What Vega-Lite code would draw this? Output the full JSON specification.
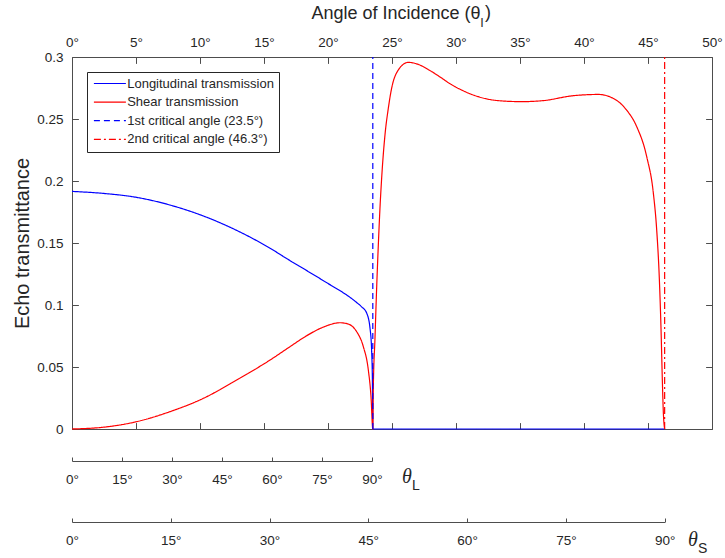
{
  "$schema": "https://vega.github.io/schema/vega-lite/v6.json",
  "padding": {"left": 12, "top": 4, "right": 5, "bottom": 5},
  "background": "white",
  "bounds": "flush",
  "spacing": 20,
  "config": {
    "view": {"stroke": null},
    "font": "Liberation Sans",
    "axis": {
      "grid": false,
      "domainColor": "#4d4d4d",
      "tickColor": "#4d4d4d",
      "domainWidth": 1,
      "tickWidth": 1,
      "labelColor": "#262626",
      "titleColor": "#262626",
      "labelFont": "Liberation Sans",
      "titleFont": "Liberation Sans",
      "labelFontSize": 13.5,
      "titleFontWeight": "normal",
      "labelFlush": false,
      "labelOverlap": false
    }
  },
  "datasets": {
    "curves": [
      {"series": "Longitudinal transmission", "t": 0, "v": 0.1916},
      {"series": "Longitudinal transmission", "t": 2.45, "v": 0.19},
      {"series": "Longitudinal transmission", "t": 5.05, "v": 0.1868},
      {"series": "Longitudinal transmission", "t": 7.66, "v": 0.1806},
      {"series": "Longitudinal transmission", "t": 10.26, "v": 0.1718},
      {"series": "Longitudinal transmission", "t": 12.86, "v": 0.1602},
      {"series": "Longitudinal transmission", "t": 15.47, "v": 0.1458},
      {"series": "Longitudinal transmission", "t": 17.03, "v": 0.1358},
      {"series": "Longitudinal transmission", "t": 18.33, "v": 0.1278},
      {"series": "Longitudinal transmission", "t": 19.64, "v": 0.1196},
      {"series": "Longitudinal transmission", "t": 22.24, "v": 0.102},
      {"series": "Longitudinal transmission", "t": 22.63, "v": 0.0985},
      {"series": "Longitudinal transmission", "t": 23.02, "v": 0.0935},
      {"series": "Longitudinal transmission", "t": 23.28, "v": 0.0815},
      {"series": "Longitudinal transmission", "t": 23.41, "v": 0.063},
      {"series": "Longitudinal transmission", "t": 23.47, "v": 0.038},
      {"series": "Longitudinal transmission", "t": 23.5, "v": 0},
      {"series": "Longitudinal transmission", "t": 46.3, "v": 0},
      {"series": "Shear transmission", "t": 0, "v": 0},
      {"series": "Shear transmission", "t": 2.5, "v": 0.0015},
      {"series": "Shear transmission", "t": 5.05, "v": 0.0059},
      {"series": "Shear transmission", "t": 7.66, "v": 0.014},
      {"series": "Shear transmission", "t": 10.26, "v": 0.0247},
      {"series": "Shear transmission", "t": 12.86, "v": 0.0395},
      {"series": "Shear transmission", "t": 15.47, "v": 0.0556},
      {"series": "Shear transmission", "t": 17.03, "v": 0.0664},
      {"series": "Shear transmission", "t": 18.33, "v": 0.0752},
      {"series": "Shear transmission", "t": 19.64, "v": 0.0822},
      {"series": "Shear transmission", "t": 20.94, "v": 0.0857},
      {"series": "Shear transmission", "t": 21.59, "v": 0.0846},
      {"series": "Shear transmission", "t": 22.24, "v": 0.0785},
      {"series": "Shear transmission", "t": 22.76, "v": 0.0664},
      {"series": "Shear transmission", "t": 23.15, "v": 0.0476},
      {"series": "Shear transmission", "t": 23.36, "v": 0.026},
      {"series": "Shear transmission", "t": 23.5, "v": 0},
      {"series": "Shear transmission", "t": 23.54, "v": 0.0328},
      {"series": "Shear transmission", "t": 23.67, "v": 0.073},
      {"series": "Shear transmission", "t": 23.8, "v": 0.1134},
      {"series": "Shear transmission", "t": 23.93, "v": 0.148},
      {"series": "Shear transmission", "t": 24.06, "v": 0.178},
      {"series": "Shear transmission", "t": 24.19, "v": 0.202},
      {"series": "Shear transmission", "t": 24.45, "v": 0.237},
      {"series": "Shear transmission", "t": 24.71, "v": 0.2585},
      {"series": "Shear transmission", "t": 24.97, "v": 0.2747},
      {"series": "Shear transmission", "t": 25.49, "v": 0.2895},
      {"series": "Shear transmission", "t": 26.28, "v": 0.2957},
      {"series": "Shear transmission", "t": 27.06, "v": 0.294},
      {"series": "Shear transmission", "t": 28.1, "v": 0.2882},
      {"series": "Shear transmission", "t": 29.92, "v": 0.2761},
      {"series": "Shear transmission", "t": 31.74, "v": 0.268},
      {"series": "Shear transmission", "t": 33.3, "v": 0.2648},
      {"series": "Shear transmission", "t": 35.13, "v": 0.264},
      {"series": "Shear transmission", "t": 36.8, "v": 0.2648},
      {"series": "Shear transmission", "t": 39.17, "v": 0.2688},
      {"series": "Shear transmission", "t": 41.12, "v": 0.2698},
      {"series": "Shear transmission", "t": 42.29, "v": 0.2666},
      {"series": "Shear transmission", "t": 43.33, "v": 0.2572},
      {"series": "Shear transmission", "t": 44.12, "v": 0.2438},
      {"series": "Shear transmission", "t": 44.9, "v": 0.2196},
      {"series": "Shear transmission", "t": 45.42, "v": 0.19},
      {"series": "Shear transmission", "t": 45.68, "v": 0.1605},
      {"series": "Shear transmission", "t": 45.89, "v": 0.12},
      {"series": "Shear transmission", "t": 46.02, "v": 0.0798},
      {"series": "Shear transmission", "t": 46.12, "v": 0.0395},
      {"series": "Shear transmission", "t": 46.2, "v": 0.013},
      {"series": "Shear transmission", "t": 46.3, "v": 0}
    ],
    "crit": [
      {"series": "1st critical angle (23.5°)", "t": 23.5},
      {"series": "2nd critical angle (46.3°)", "t": 46.3}
    ]
  },
  "vconcat": [
    {
      "width": 640,
      "height": 372,
      "layer": [
        {
          "layer": [
            {
              "data": {"name": "curves"},
              "mark": {"type": "line", "strokeWidth": 1.2, "interpolate": "monotone"},
              "encoding": {
                "x": {
                  "field": "t", "type": "quantitative",
                  "scale": {"domain": [0, 50], "nice": false, "zero": false},
                  "axis": {
                    "orient": "top",
                    "values": [0, 5, 10, 15, 20, 25, 30, 35, 40, 45, 50],
                    "labelExpr": "datum.value + '°'",
                    "tickSize": -6.4,
                    "labelPadding": 13.9,
                    "title": "Angle of Incidence (θ",
                    "titleFontSize": 18,
                    "titleAlign": "right",
                    "titleX": 408,
                    "titleY": -39,
                    "titleBaseline": "alphabetic"
                  }
                },
                "y": {
                  "field": "v", "type": "quantitative",
                  "scale": {"domain": [0, 0.3], "nice": false},
                  "axis": {
                    "orient": "left",
                    "values": [0, 0.05, 0.1, 0.15, 0.2, 0.25, 0.3],
                    "format": "~g",
                    "tickSize": -6.4,
                    "labelPadding": 15.4,
                    "title": "Echo transmittance",
                    "titleFontSize": 20,
                    "titleX": -44,
                    "titleY": 186,
                    "titleAngle": 270,
                    "titleAlign": "center",
                    "titleBaseline": "alphabetic"
                  }
                },
                "color": {
                  "field": "series", "type": "nominal",
                  "scale": {
                    "domain": ["Longitudinal transmission", "Shear transmission", "1st critical angle (23.5°)", "2nd critical angle (46.3°)"],
                    "range": ["#0000ff", "#ff0000", "#0000ff", "#ff0000"]
                  },
                  "legend": {
                    "orient": "none", "legendX": 15, "legendY": 15, "title": null,
                    "symbolType": "M-4,0L4,0", "symbolSize": 64, "symbolStrokeWidth": 1.2, "symbolOffset": 11.4,
                    "labelFontSize": 13, "labelFont": "Liberation Sans", "labelColor": "#262626",
                    "padding": 5, "strokeColor": "#262626", "fillColor": "white",
                    "labelOffset": 10.8, "rowPadding": 4.6, "cornerRadius": 0,
                    "encode": {"symbols": {"update": {"stroke": {"scale": "color", "field": "value"}, "strokeDash": {"scale": "strokeDash", "field": "value"}}}}
                  }
                },
                "strokeDash": {
                  "field": "series", "type": "nominal",
                  "scale": {
                    "domain": ["Longitudinal transmission", "Shear transmission", "1st critical angle (23.5°)", "2nd critical angle (46.3°)"],
                    "range": [[1, 0], [1, 0], [6, 4], [7, 3, 2, 3]]
                  },
                  "legend": null
                }
              }
            },
            {
              "data": {"values": [{}]},
              "mark": {"type": "text", "text": "I", "font": "Liberation Sans", "fontSize": 12.5, "color": "#262626", "baseline": "alphabetic", "align": "center", "dy": -30},
              "encoding": {"x": {"datum": 32.03, "type": "quantitative"}, "y": {"datum": 0.3, "type": "quantitative"}}
            },
            {
              "data": {"values": [{}]},
              "mark": {"type": "text", "text": ")", "font": "Liberation Sans", "fontSize": 18, "color": "#262626", "baseline": "alphabetic", "align": "center", "dy": -39},
              "encoding": {"x": {"datum": 32.5, "type": "quantitative"}, "y": {"datum": 0.3, "type": "quantitative"}}
            }
          ]
        },
        {
          "data": {"name": "crit"},
          "mark": {"type": "rule", "strokeWidth": 1.2},
          "encoding": {
            "x": {
              "field": "t", "type": "quantitative",
              "scale": {"domain": [0, 50], "nice": false, "zero": false},
              "axis": {"orient": "bottom", "values": [0, 5, 10, 15, 20, 25, 30, 35, 40, 45, 50], "labels": false, "tickSize": -6.4, "title": null}
            },
            "y": {
              "datum": 0, "type": "quantitative",
              "scale": {"domain": [0, 0.3], "nice": false},
              "axis": {"orient": "right", "values": [0, 0.05, 0.1, 0.15, 0.2, 0.25, 0.3], "labels": false, "tickSize": -6.4, "title": null}
            },
            "y2": {"datum": 0.3},
            "color": {
              "field": "series", "type": "nominal",
              "scale": {
                "domain": ["Longitudinal transmission", "Shear transmission", "1st critical angle (23.5°)", "2nd critical angle (46.3°)"],
                "range": ["#0000ff", "#ff0000", "#0000ff", "#ff0000"]
              },
              "legend": {
                "orient": "none", "legendX": 15, "legendY": 15, "title": null,
                "symbolType": "M-4,0L4,0", "symbolSize": 64, "symbolStrokeWidth": 1.2, "symbolOffset": 11.4,
                "labelFontSize": 13, "labelFont": "Liberation Sans", "labelColor": "#262626",
                "padding": 5, "strokeColor": "#262626", "fillColor": "white",
                "labelOffset": 10.8, "rowPadding": 4.6, "cornerRadius": 0,
                "encode": {"symbols": {"update": {"stroke": {"scale": "color", "field": "value"}, "strokeDash": {"scale": "strokeDash", "field": "value"}}}}
              }
            },
            "strokeDash": {
              "field": "series", "type": "nominal",
              "scale": {
                "domain": ["Longitudinal transmission", "Shear transmission", "1st critical angle (23.5°)", "2nd critical angle (46.3°)"],
                "range": [[1, 0], [1, 0], [6, 4], [7, 3, 2, 3]]
              },
              "legend": null
            }
          }
        }
      ],
      "resolve": {"scale": {"x": "independent", "y": "independent"}}
    },
    {
      "width": 300,
      "height": 12,
      "data": {"values": [{}]},
      "layer": [
        {
          "mark": {"type": "text", "text": "θ", "font": "Liberation Serif", "fontStyle": "italic", "fontSize": 20, "color": "#262626", "baseline": "alphabetic", "align": "center", "dy": 28},
          "encoding": {
            "x": {
              "datum": 100.5, "type": "quantitative",
              "scale": {"domain": [0, 90], "nice": false, "zero": false},
              "axis": {"orient": "bottom", "values": [0, 15, 30, 45, 60, 75, 90], "labelExpr": "datum.value + '°'", "tickSize": -4, "labelPadding": 15, "title": null}
            }
          }
        },
        {
          "mark": {"type": "text", "text": "L", "font": "Liberation Sans", "fontSize": 14, "color": "#262626", "baseline": "alphabetic", "align": "center", "dy": 35},
          "encoding": {"x": {"datum": 103.2, "type": "quantitative"}}
        }
      ]
    },
    {
      "width": 592.6,
      "height": 41,
      "data": {"values": [{}]},
      "layer": [
        {
          "mark": {"type": "text", "text": "θ", "font": "Liberation Serif", "fontStyle": "italic", "fontSize": 20, "color": "#262626", "baseline": "alphabetic", "align": "center", "dy": 44.5},
          "encoding": {
            "x": {
              "datum": 94.3, "type": "quantitative",
              "scale": {"domain": [0, 90], "nice": false, "zero": false},
              "axis": {"orient": "bottom", "values": [0, 15, 30, 45, 60, 75, 90], "labelExpr": "datum.value + '°'", "tickSize": -4, "labelPadding": 15, "title": null}
            }
          }
        },
        {
          "mark": {"type": "text", "text": "S", "font": "Liberation Sans", "fontSize": 14, "color": "#262626", "baseline": "alphabetic", "align": "center", "dy": 51.5},
          "encoding": {"x": {"datum": 95.8, "type": "quantitative"}}
        }
      ]
    }
  ]
}
